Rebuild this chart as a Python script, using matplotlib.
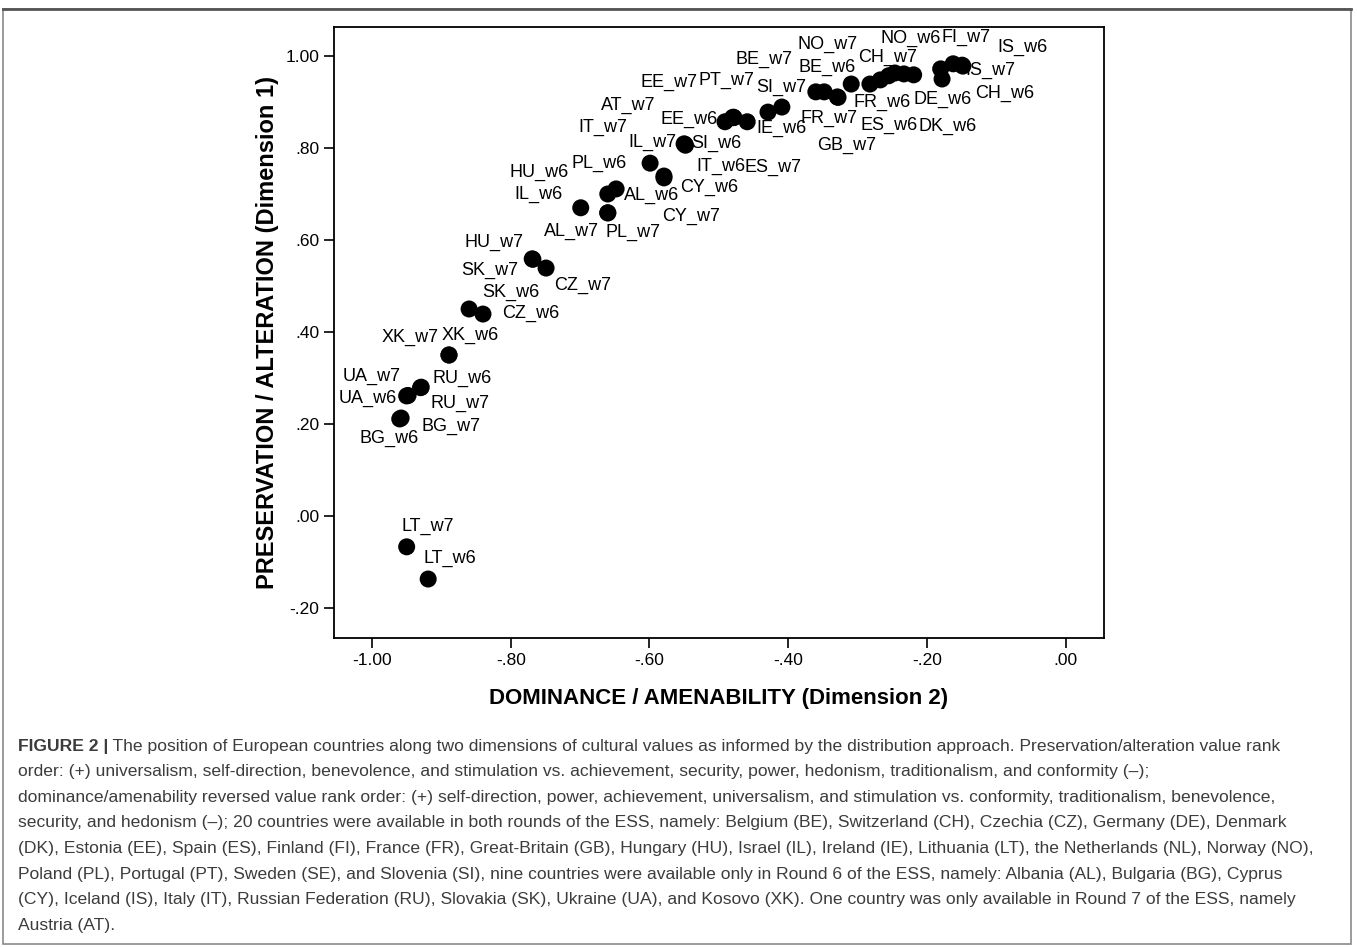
import matplotlib
matplotlib.use("Agg")
import matplotlib.pyplot as plt
from matplotlib.ticker import FuncFormatter
from matplotlib.patches import Rectangle

plt.rcParams['font.family'] = ['Liberation Sans', 'DejaVu Sans']

# country/round labels with their coordinates (dimension 2 = x, dimension 1 = y)
labels = ["LT_w7", "LT_w6", "BG_w6", "BG_w7", "UA_w6", "UA_w7", "RU_w6", "RU_w7",
          "XK_w6", "XK_w7", "SK_w6", "CZ_w6", "HU_w7", "SK_w7", "CZ_w7",
          "IL_w6", "AL_w6", "HU_w6", "PL_w6", "CY_w6", "CY_w7", "PL_w7", "AL_w7",
          "IL_w7", "SI_w6", "IT_w6", "EE_w6", "AT_w7", "IT_w7", "EE_w7", "ES_w7",
          "IE_w6", "PT_w7",
          "SI_w7", "BE_w7", "FR_w7", "GB_w7", "BE_w6", "FR_w6", "NO_w7", "ES_w6",
          "CH_w7", "NO_w6", "DE_w6", "DK_w6", "FI_w7", "IS_w6", "IS_w7", "CH_w6"]
dim2 = [-0.950, -0.919, -0.960, -0.958, -0.950, -0.948, -0.929, -0.930,
        -0.889, -0.889, -0.860, -0.840, -0.769, -0.768, -0.749,
        -0.699, -0.648, -0.660, -0.599, -0.579, -0.579, -0.660, -0.660,
        -0.550, -0.549, -0.548, -0.491, -0.479, -0.480, -0.478, -0.459,
        -0.429, -0.409,
        -0.360, -0.348, -0.329, -0.328, -0.309, -0.282, -0.267, -0.255,
        -0.246, -0.233, -0.219, -0.178, -0.180, -0.162, -0.149, -0.148]
dim1 = [-0.067, -0.137, 0.211, 0.213, 0.261, 0.262, 0.280, 0.279,
        0.350, 0.350, 0.450, 0.439, 0.559, 0.558, 0.539,
        0.670, 0.711, 0.700, 0.767, 0.739, 0.735, 0.659, 0.659,
        0.809, 0.808, 0.806, 0.857, 0.867, 0.866, 0.866, 0.857,
        0.878, 0.889,
        0.922, 0.922, 0.911, 0.910, 0.939, 0.939, 0.948, 0.957,
        0.963, 0.961, 0.959, 0.950, 0.972, 0.983, 0.980, 0.978]

# where each label sits relative to its point (pixels)
label_dx = [21, 22, -11, 50, -39, -36, 41, 39,
            21, -39, 42, 48, -38, -43, 37,
            -42, 35, -69, -51, 45, 27, 25, -36,
            -32, 32, 35, -36, -105, -130, -65, 26,
            14, -55,
            -35, -60, -8, 9, -24, 12, -53, 0,
            -7, 7, 29, 6, 25, 69, 28, 42]
label_dy = [20, 21, -19, -8, -2, 19, 9, -16,
            20, 18, 17, 1, 16, -11, -17,
            13, -6, 22, 0, -11, -39, -20, -19,
            1, 1, -21, 2, 12, -10, 35, -46,
            -16, 27,
            4, 32, -21, -48, 17, -18, 35, -50,
            16, 36, -25, -47, 31, 16, -5, -27]

W, H = 1357, 947
fig = plt.figure(figsize=(W / 100, H / 100), dpi=100)
fig.patch.set_facecolor("white")

# outer frame of the figure panel
fig.patches.append(Rectangle((3 / W, 1 - 944 / H), 1348 / W, 935 / H,
                             transform=fig.transFigure, fill=False,
                             edgecolor="#8a8a8a", linewidth=1.2))
fig.add_artist(plt.Line2D([3 / W, 1351 / W], [1 - 9 / H, 1 - 9 / H],
                          transform=fig.transFigure, color="#555555", linewidth=2))

ax = fig.add_axes([334 / W, 1 - 638 / H, 770 / W, 611 / H])
ax.scatter(dim2, dim1, s=150, c="black", edgecolors="none", zorder=4)

for lab, x, y, dx, dy in zip(labels, dim2, dim1, label_dx, label_dy):
    ax.annotate(lab, (x, y), xytext=(dx, dy), textcoords="offset pixels",
                ha="center", va="center", fontsize=13, zorder=2)

ax.set_xlim(-1.0548, 0.0555)
ax.set_ylim(-0.2652, 1.063)
ax.set_xticks([-1.0, -0.8, -0.6, -0.4, -0.2, 0.0])
ax.set_yticks([-0.2, 0.0, 0.2, 0.4, 0.6, 0.8, 1.0])


def spss_fmt(v, pos):
    if abs(v) < 1e-9:
        v = 0.0
    s = f"{v:.2f}"
    if s.startswith("0."):
        s = s[1:]
    elif s.startswith("-0."):
        s = "-" + s[2:]
    return s


ax.xaxis.set_major_formatter(FuncFormatter(spss_fmt))
ax.yaxis.set_major_formatter(FuncFormatter(spss_fmt))
ax.tick_params(direction="out", length=7.5, width=1.2, labelsize=12.5, pad=3)
for sp in ax.spines.values():
    sp.set_linewidth(1.3)

ax.set_xlabel("DOMINANCE / AMENABILITY (Dimension 2)", fontsize=16, fontweight="bold")
ax.set_ylabel("PRESERVATION / ALTERATION (Dimension 1)", fontsize=17, fontweight="bold")
ax.xaxis.set_label_coords(0.5, -0.082)
ax.yaxis.set_label_coords(-0.072, 0.5)

caption = [
    " The position of European countries along two dimensions of cultural values as informed by the distribution approach. Preservation/alteration value rank",
    "order: (+) universalism, self-direction, benevolence, and stimulation vs. achievement, security, power, hedonism, traditionalism, and conformity (\u2013);",
    "dominance/amenability reversed value rank order: (+) self-direction, power, achievement, universalism, and stimulation vs. conformity, traditionalism, benevolence,",
    "security, and hedonism (\u2013); 20 countries were available in both rounds of the ESS, namely: Belgium (BE), Switzerland (CH), Czechia (CZ), Germany (DE), Denmark",
    "(DK), Estonia (EE), Spain (ES), Finland (FI), France (FR), Great-Britain (GB), Hungary (HU), Israel (IL), Ireland (IE), Lithuania (LT), the Netherlands (NL), Norway (NO),",
    "Poland (PL), Portugal (PT), Sweden (SE), and Slovenia (SI), nine countries were available only in Round 6 of the ESS, namely: Albania (AL), Bulgaria (BG), Cyprus",
    "(CY), Iceland (IS), Italy (IT), Russian Federation (RU), Slovakia (SK), Ukraine (UA), and Kosovo (XK). One country was only available in Round 7 of the ESS, namely",
    "Austria (AT).",
]
cap_color = "#3c3c3c"
cap_size = 12.6
for i, line in enumerate(caption):
    y = 1 - (746 + 25.6 * i) / H
    if i == 0:
        head = fig.text(18 / W, y, "FIGURE 2 |", fontsize=cap_size, fontweight="bold",
                        color=cap_color, va="center")
        ax.annotate(line, xy=(1, 0.5), xycoords=head, va="center", ha="left",
                    fontsize=cap_size, color=cap_color, annotation_clip=False)
    else:
        fig.text(18 / W, y, line, fontsize=cap_size, color=cap_color, va="center")

fig.savefig("out.png", dpi=100)
